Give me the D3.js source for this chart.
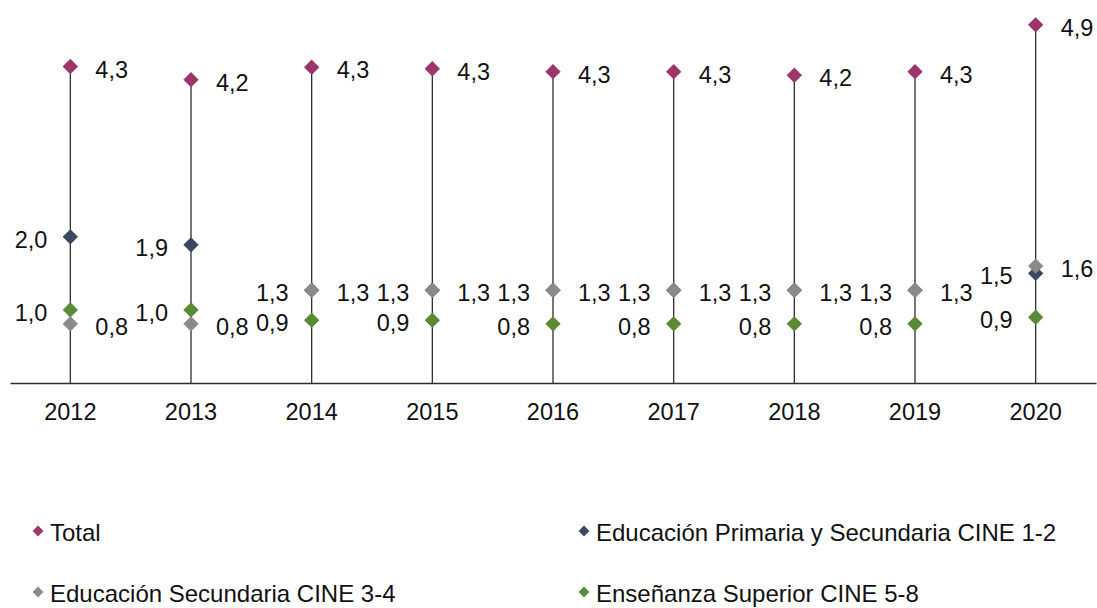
<!DOCTYPE html>
<html>
<head>
<meta charset="utf-8">
<script src="https://cdn.jsdelivr.net/npm/d3@7"></script>
<style>
  body { margin: 0; background: #fff; }
  text { font-family: "Liberation Sans", Arial, sans-serif; fill: #111; }
</style>
</head>
<body>
<svg id="chart"></svg>
<script>
// values
const years = ["2012", "2013", "2014", "2015", "2016", "2017", "2018", "2019", "2020"]
const total = [4.33, 4.15, 4.32, 4.30, 4.26, 4.26, 4.21, 4.26, 4.90]
const primaria = [2.0, 1.89, 1.27, 1.27, 1.27, 1.27, 1.27, 1.27, 1.5]
const secundaria = [0.81, 0.81, 1.27, 1.27, 1.27, 1.27, 1.27, 1.27, 1.6]
const superior = [1.0, 1.0, 0.86, 0.86, 0.81, 0.81, 0.81, 0.81, 0.9]
const seriesNames = ["Total", "Educación Primaria y Secundaria CINE 1-2",
  "Educación Secundaria CINE 3-4", "Enseñanza Superior CINE 5-8"]

const colors = ["#9c3569", "#3b4862", "#8a8a8a", "#5a8b34"]
// which side the value label sits on
const labelSide = ["right", "left", "right", "left"]

const series = [total, primaria, secundaria, superior].map((vals, i) => ({
  name: seriesNames[i], color: colors[i], side: labelSide[i],
  points: vals.map((v, j) => ({ year: years[j], value: v }))
}))

let dimensions = {
  width: 1097, height: 608,
  margin: { top: 0, right: 1, bottom: 225, left: 10 }
}
dimensions.boundedWidth = dimensions.width - dimensions.margin.left - dimensions.margin.right
dimensions.boundedHeight = dimensions.height - dimensions.margin.top - dimensions.margin.bottom

const locale = d3.formatLocale({ decimal: ",", thousands: ".", grouping: [3], currency: ["", "€"] })
const fmt = locale.format(".1f")

const svg = d3.select("#chart")
  .attr("width", dimensions.width)
  .attr("height", dimensions.height)

const bounds = svg.append("g")
  .attr("transform", `translate(${dimensions.margin.left}, ${dimensions.margin.top})`)

const xScale = d3.scaleBand()
  .domain(years)
  .range([0, dimensions.boundedWidth])

const yScale = d3.scaleLinear()
  .domain([0, 5.24])
  .range([dimensions.boundedHeight, 0])

const xCenter = d => xScale(d) + xScale.bandwidth() / 2

// drop lines from the total down to the axis
bounds.selectAll(".drop")
  .data(series[0].points)
  .join("line")
  .attr("x1", d => xCenter(d.year))
  .attr("x2", d => xCenter(d.year))
  .attr("y1", d => yScale(d.value))
  .attr("y2", yScale(0))
  .attr("stroke", "#2e2e2e")
  .attr("stroke-width", 1.3)

const xAxis = bounds.append("g")
  .attr("transform", `translate(0, ${dimensions.boundedHeight})`)
  .call(d3.axisBottom(xScale).tickSize(0).tickPadding(20))
xAxis.select(".domain").attr("stroke", "#2e2e2e").attr("stroke-width", 1.3)
xAxis.selectAll("text")
  .style("font-family", '"Liberation Sans", Arial, sans-serif')
  .style("font-size", "23.5px")
  .attr("fill", "#111")

const diamond = d3.symbol().type(d3.symbolDiamond2).size(150)

series.forEach(s => {
  const g = bounds.append("g")
  g.selectAll("path")
    .data(s.points)
    .join("path")
    .attr("d", diamond)
    .attr("transform", d => `translate(${xCenter(d.year)}, ${yScale(d.value)})`)
    .attr("fill", s.color)
})

series.forEach(s => {
  bounds.append("g").selectAll("text")
    .data(s.points)
    .join("text")
    .attr("x", d => xCenter(d.year) + (s.side === "right" ? 25 : -23))
    .attr("y", d => yScale(d.value) + 3)
    .attr("text-anchor", s.side === "right" ? "start" : "end")
    .attr("dominant-baseline", "central")
    .style("font-size", "23.5px")
    .text(d => fmt(d.value))
})

// legend, two columns by two rows
const legendX = [38, 584]
const legendY = [531, 592]
const legend = svg.append("g")
series.forEach((s, i) => {
  const x = legendX[i % 2]
  const y = legendY[Math.floor(i / 2)]
  legend.append("path")
    .attr("d", d3.symbol().type(d3.symbolDiamond2).size(75)())
    .attr("transform", `translate(${x}, ${y})`)
    .attr("fill", s.color)
  legend.append("text")
    .attr("x", x + 12)
    .attr("y", y + 1)
    .attr("dominant-baseline", "central")
    .style("font-size", "24px")
    .text(s.name)
})
</script>
</body>
</html>
